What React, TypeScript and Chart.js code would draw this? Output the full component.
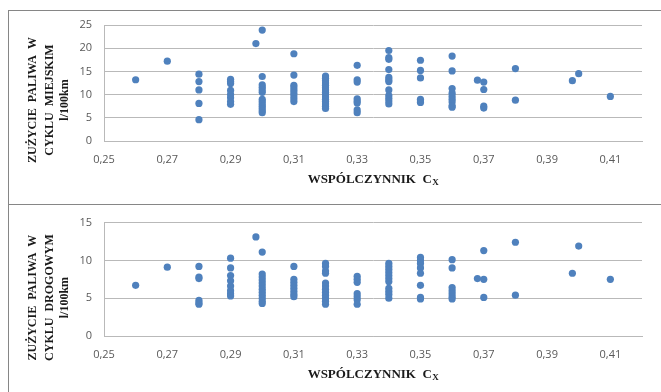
import React, { useEffect, useRef } from "react";
import { Chart, registerables } from "chart.js";

Chart.register(...registerables);

// Categories / tick labels
const xTickValues = [0.25, 0.27, 0.29, 0.31, 0.33, 0.35, 0.37, 0.39, 0.41];
const cityYTicks = [0, 5, 10, 15, 20, 25];
const highwayYTicks = [0, 5, 10, 15];

// Titles
const cityTitleLines = ["ZUŻYCIE  PALIWA  W", "CYKLU  MIEJSKIM", "l/100km"];
const highwayTitleLines = ["ZUŻYCIE  PALIWA  W", "CYKLU  DROGOWYM", "l/100km"];
const xTitleMain = "WSPÓLCZYNNIK  C";
const xTitleSub = "X";

// City cycle (top chart): drag coefficient Cx and fuel use l/100km
const cityCx = [
  0.26,
  0.27,
  0.28, 0.28, 0.28, 0.28, 0.28,
  0.29, 0.29, 0.29, 0.29, 0.29, 0.29, 0.29, 0.29,
  0.298,
  0.30, 0.30, 0.30, 0.30, 0.30, 0.30, 0.30, 0.30, 0.30, 0.30, 0.30, 0.30, 0.30,
  0.31, 0.31, 0.31, 0.31, 0.31, 0.31, 0.31, 0.31, 0.31,
  0.32, 0.32, 0.32, 0.32, 0.32, 0.32, 0.32, 0.32, 0.32, 0.32, 0.32, 0.32, 0.32, 0.32, 0.32,
  0.33, 0.33, 0.33, 0.33, 0.33, 0.33, 0.33, 0.33,
  0.34, 0.34, 0.34, 0.34, 0.34, 0.34, 0.34, 0.34, 0.34, 0.34, 0.34, 0.34,
  0.35, 0.35, 0.35, 0.35, 0.35, 0.35,
  0.36, 0.36, 0.36, 0.36, 0.36, 0.36, 0.36, 0.36, 0.36,
  0.368,
  0.37, 0.37, 0.37, 0.37,
  0.38, 0.38,
  0.398,
  0.40,
  0.41,
];
const cityUse = [
  13.2,
  17.2,
  14.4, 12.8, 11.0, 8.1, 4.6,
  13.3, 12.8, 12.4, 10.9, 10.0, 9.3, 8.5, 7.9,
  21.0,
  23.9, 13.9, 12.1, 11.6, 11.0, 10.5, 9.0, 8.5, 8.0, 7.5, 7.0, 6.5, 6.1,
  18.8, 14.2, 12.0, 11.5, 10.9, 10.3, 9.7, 9.1, 8.5,
  14.0, 13.5, 13.0, 12.5, 12.0, 11.5, 11.0, 10.5, 10.0, 9.5, 9.0, 8.5, 8.0, 7.5, 7.0,
  16.3, 13.2, 12.7, 9.1, 8.6, 8.2, 6.7, 6.1,
  19.5, 18.0, 17.6, 15.4, 13.7, 13.2, 12.8, 11.0, 9.8, 9.2, 8.6, 8.0,
  17.4, 15.2, 13.6, 9.0, 8.6, 8.3,
  18.3, 15.1, 11.3, 10.3, 9.6, 9.0, 8.4, 7.6, 7.3,
  13.1,
  12.7, 11.1, 7.5, 7.1,
  15.6, 8.8,
  13.0,
  14.5,
  9.6,
];

// Highway cycle (bottom chart)
const highwayCx = [
  0.26,
  0.27,
  0.28, 0.28, 0.28, 0.28, 0.28, 0.28,
  0.29, 0.29, 0.29, 0.29, 0.29, 0.29, 0.29, 0.29,
  0.298,
  0.30, 0.30, 0.30, 0.30, 0.30, 0.30, 0.30, 0.30, 0.30, 0.30, 0.30, 0.30,
  0.31, 0.31, 0.31, 0.31, 0.31, 0.31, 0.31, 0.31,
  0.32, 0.32, 0.32, 0.32, 0.32, 0.32, 0.32, 0.32, 0.32, 0.32, 0.32, 0.32,
  0.33, 0.33, 0.33, 0.33, 0.33, 0.33, 0.33,
  0.34, 0.34, 0.34, 0.34, 0.34, 0.34, 0.34, 0.34, 0.34, 0.34, 0.34,
  0.35, 0.35, 0.35, 0.35, 0.35, 0.35, 0.35, 0.35,
  0.36, 0.36, 0.36, 0.36, 0.36, 0.36, 0.36,
  0.368,
  0.37, 0.37, 0.37,
  0.38, 0.38,
  0.398,
  0.40,
  0.41,
];
const highwayUse = [
  6.7,
  9.1,
  9.2, 7.8, 7.6, 4.7, 4.4, 4.2,
  10.3, 9.0, 8.0, 7.3, 6.6, 6.0, 5.6, 5.3,
  13.1,
  11.1, 8.2, 7.8, 7.4, 7.0, 6.6, 6.2, 5.8, 5.4, 5.0, 4.6, 4.3,
  9.2, 7.5, 7.1, 6.7, 6.3, 5.9, 5.5, 5.2,
  9.6, 9.2, 8.6, 8.3, 7.0, 6.6, 6.2, 5.8, 5.4, 5.0, 4.6, 4.2,
  7.9, 7.5, 7.1, 5.6, 5.2, 4.8, 4.2,
  9.6, 9.2, 8.8, 8.4, 8.0, 7.6, 7.2, 6.3, 5.9, 5.5, 5.0,
  10.4, 10.0, 9.6, 9.0, 8.3, 6.7, 5.1, 4.9,
  10.1, 9.0, 6.4, 6.0, 5.6, 5.2, 4.9,
  7.6,
  11.3, 7.5, 5.1,
  12.4, 5.4,
  8.3,
  11.9,
  7.5,
];

const POINT_COLOR = "#4f81bd";
const GRID_COLOR = "#b9b9b9";
const TICK_COLOR = "#595959";
const TITLE_COLOR = "#1a1a1a";

const titlePlugin = {
  id: "axisTitles",
  afterDraw(chart: any, _args: any, opts: any) {
    const { ctx, chartArea } = chart;
    ctx.save();
    ctx.fillStyle = TITLE_COLOR;
    // Y title: rotated, multiple lines
    ctx.font = "bold 12px 'Liberation Serif', 'Times New Roman', serif";
    ctx.textAlign = "center";
    ctx.textBaseline = "middle";
    const offsets = [71, 54, 39];
    const cy = chartArea.top + 75;
    (opts.yLines || []).forEach((line: string, i: number) => {
      ctx.save();
      ctx.translate(chartArea.left - offsets[i], cy);
      ctx.rotate(-Math.PI / 2);
      ctx.fillText(line, 0, 0);
      ctx.restore();
    });
    // X title with subscript
    const mainFont = "bold 13px 'Liberation Serif', 'Times New Roman', serif";
    const subFont = "bold 9px 'Liberation Serif', 'Times New Roman', serif";
    ctx.font = mainFont;
    const wMain = ctx.measureText(opts.xMain).width;
    ctx.font = subFont;
    const wSub = ctx.measureText(opts.xSub).width;
    const cx = (chartArea.left + chartArea.right) / 2;
    const startX = cx - (wMain + wSub) / 2;
    const ty = chartArea.bottom + 39;
    ctx.textAlign = "left";
    ctx.textBaseline = "middle";
    ctx.font = mainFont;
    ctx.fillText(opts.xMain, startX, ty);
    ctx.font = subFont;
    ctx.fillText(opts.xSub, startX + wMain + 0.5, ty + 3);
    ctx.restore();
  },
};

function makeConfig(
  xs: number[],
  ys: number[],
  yTicks: number[],
  yLines: string[],
  padTop: number,
  xAxisHeight: number
): any {
  const data = xs.map((x, i) => ({ x, y: ys[i] }));
  const tickFont = { family: "'Open Sans', 'Liberation Sans', sans-serif", size: 11 };
  return {
    type: "scatter",
    data: {
      datasets: [
        {
          data,
          backgroundColor: POINT_COLOR,
          borderColor: POINT_COLOR,
          borderWidth: 0,
          pointRadius: 3.6,
          pointHoverRadius: 3.6,
        },
      ],
    },
    options: {
      responsive: false,
      animation: false,
      devicePixelRatio: 1,
      layout: { padding: { left: 0, top: padTop, right: 19, bottom: 0 } },
      plugins: {
        legend: { display: false },
        tooltip: { enabled: false },
        axisTitles: { yLines, xMain: xTitleMain, xSub: xTitleSub },
      },
      scales: {
        x: {
          type: "linear",
          min: 0.25,
          max: 0.42,
          afterBuildTicks: (scale: any) => {
            scale.ticks = xTickValues.map((v) => ({ value: v }));
          },
          afterFit: (scale: any) => {
            scale.height = xAxisHeight;
          },
          grid: { display: false, drawTicks: false },
          border: { display: true, color: GRID_COLOR, width: 1 },
          ticks: {
            padding: 12,
            color: TICK_COLOR,
            font: tickFont,
            maxRotation: 0,
            autoSkip: false,
            callback: (v: any) => Number(v).toFixed(2).replace(".", ","),
          },
        },
        y: {
          type: "linear",
          min: yTicks[0],
          max: yTicks[yTicks.length - 1],
          afterBuildTicks: (scale: any) => {
            scale.ticks = yTicks.map((v) => ({ value: v }));
          },
          afterFit: (scale: any) => {
            scale.width = 104;
          },
          grid: { display: true, color: GRID_COLOR, lineWidth: 1, drawTicks: false },
          border: { display: true, color: GRID_COLOR, width: 1 },
          ticks: {
            padding: 12,
            color: TICK_COLOR,
            font: tickFont,
            callback: (v: any) => String(v),
          },
        },
      },
    },
    plugins: [titlePlugin],
  };
}

export default function App() {
  const topRef = useRef<HTMLCanvasElement>(null);
  const bottomRef = useRef<HTMLCanvasElement>(null);

  useEffect(() => {
    const c1 = new Chart(
      topRef.current as HTMLCanvasElement,
      makeConfig(cityCx, cityUse, cityYTicks, cityTitleLines, 25, 62)
    );
    const c2 = new Chart(
      bottomRef.current as HTMLCanvasElement,
      makeConfig(highwayCx, highwayUse, highwayYTicks, highwayTitleLines, 15, 56)
    );
    return () => {
      c1.destroy();
      c2.destroy();
    };
  }, []);

  return (
    <div
      style={{
        position: "fixed",
        left: 0,
        top: 0,
        width: 661,
        height: 392,
        overflow: "hidden",
        background: "#ffffff",
      }}
    >
      <div
        style={{
          position: "absolute",
          left: 8,
          top: 10,
          width: 700,
          height: 400,
          borderTop: "1px solid #868686",
          borderLeft: "1px solid #868686",
        }}
      />
      <div
        style={{
          position: "absolute",
          left: 8,
          top: 204,
          width: 700,
          height: 1,
          background: "#868686",
        }}
      />
      <canvas
        ref={topRef}
        width={661}
        height={203}
        style={{ position: "absolute", left: 0, top: 0, width: 661, height: 203 }}
      />
      <canvas
        ref={bottomRef}
        width={661}
        height={188}
        style={{ position: "absolute", left: 0, top: 204, width: 661, height: 188 }}
      />
    </div>
  );
}
